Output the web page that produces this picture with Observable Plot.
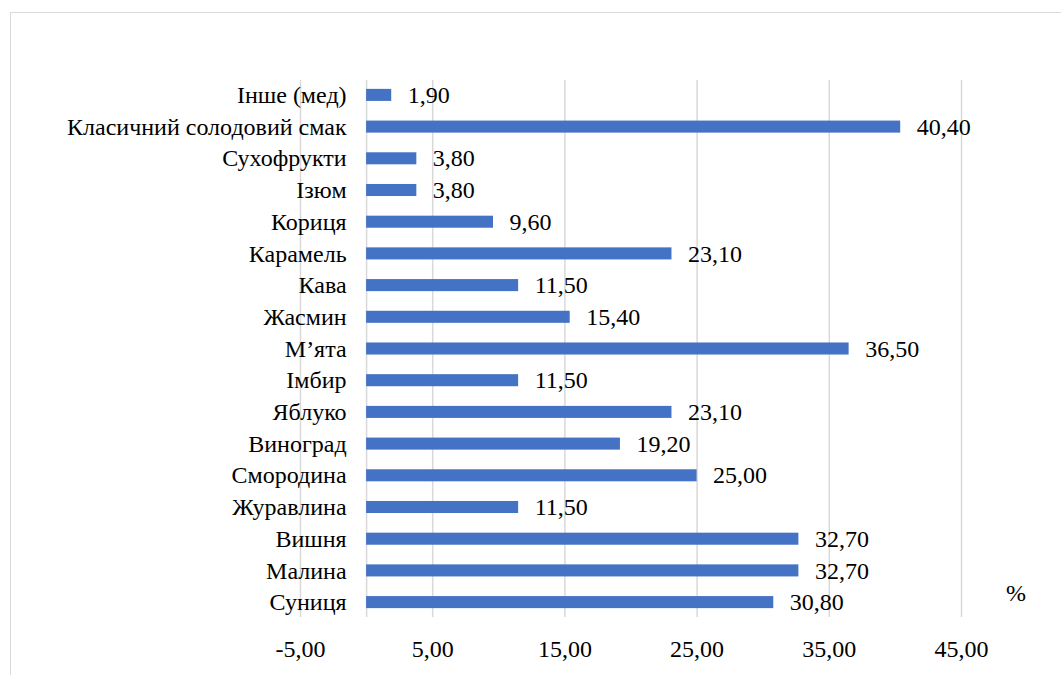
<!DOCTYPE html>
<html>
<head>
<meta charset="utf-8">
<script src="https://cdn.jsdelivr.net/npm/d3@7"></script>
<script src="https://cdn.jsdelivr.net/npm/@observablehq/plot@0.6"></script>
<style>
  html, body { margin: 0; padding: 0; background: #fff; overflow: hidden; }
  #wrap { position: relative; width: 1061px; height: 675px; }
  #frame { position: absolute; left: 10px; top: 12px; width: 1100px; height: 700px; border: 1.5px solid #d9d9d9; box-sizing: border-box; }
  #chart { position: absolute; left: 0; top: 0; }
  #unit { position: absolute; left: 1006px; top: 580px; font-family: 'Liberation Serif'; font-size: 24px; color: #000; }
</style>
</head>
<body>
<div id="wrap">
  <div id="frame"></div>
  <div id="chart"></div>
  <div id="unit">%</div>
</div>
<script>
const categories = ["Інше (мед)", "Класичний солодовий смак", "Сухофрукти", "Ізюм", "Кориця", "Карамель", "Кава", "Жасмин", "М’ята", "Імбир", "Яблуко", "Виноград", "Смородина", "Журавлина", "Вишня", "Малина", "Суниця"];
const values = [1.90, 40.40, 3.80, 3.80, 9.60, 23.10, 11.50, 15.40, 36.50, 11.50, 23.10, 19.20, 25.00, 11.50, 32.70, 32.70, 30.80];
const xTicks = [-5, 5, 15, 25, 35, 45];
const gridLines = [-5, 0, 5, 15, 25, 35, 45];

const data = categories.map((c, i) => ({category: c, value: values[i]}));
const fmt = v => v.toFixed(2).replace(".", ",");
const fam = "Liberation Serif";

const chart = Plot.plot({
  width: 1061,
  height: 675,
  marginLeft: 300,
  marginRight: 100,
  marginTop: 80,
  marginBottom: 58,
  style: {fontFamily: fam, fontSize: "24px", color: "#000", background: "transparent"},
  x: {domain: [-5, 45]},
  y: {domain: categories, paddingInner: 0.62, paddingOuter: 0.28, round: false},
  marks: [
    Plot.ruleX(gridLines, {stroke: "#d9d9d9", strokeWidth: 1.5}),
    Plot.barX(data, {x1: 0, x2: "value", y: "category", fill: "#4472C4"}),
    Plot.text(data, {x: "value", y: "category", text: d => fmt(d.value), textAnchor: "start", dx: 16, fill: "#000", fontSize: 24, fontFamily: fam}),
    Plot.text(data, {x: () => 0, y: "category", text: "category", textAnchor: "end", dx: -20, fill: "#000", fontSize: 24, fontFamily: fam}),
    Plot.axisX({ticks: xTicks, tickFormat: fmt, tickSize: 0, tickPadding: 22, fontSize: 24, fontFamily: fam, label: null}),
    Plot.axisY({ticks: [], tickSize: 0, label: null})
  ]
});
document.getElementById("chart").appendChild(chart);
</script>
</body>
</html>
